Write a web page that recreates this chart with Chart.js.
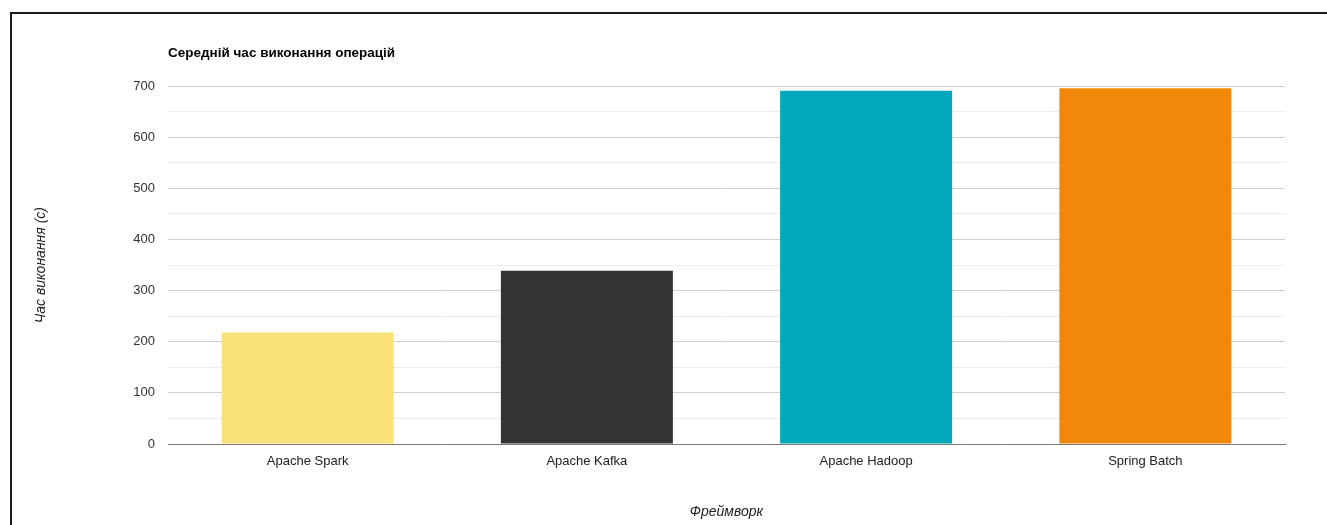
<!DOCTYPE html>
<html lang="uk">
<head>
    <meta charset="UTF-8">
    <title>Середній час виконання операцій</title>
    <script src="https://cdn.jsdelivr.net/npm/chart.js@4.4.1/dist/chart.umd.min.js"></script>
    <style>
        html, body { margin: 0; padding: 0; background: #fff; }
        .wrap { position: relative; width: 1327px; height: 525px; overflow: hidden; }
        .frame {
            position: absolute; left: 10px; top: 12px; right: -5px; bottom: -5px;
            border-left: 2px solid #1b1b1b; border-top: 2px solid #1b1b1b;
            pointer-events: none;
        }
        canvas { position: absolute; left: 0; top: 0; }
    </style>
</head>
<body>
<div class="wrap">
    <canvas id="chart" width="1327" height="525"></canvas>
    <div class="frame"></div>
</div>
<script>
    // data
    const frameworks = ['Apache Spark', 'Apache Kafka', 'Apache Hadoop', 'Spring Batch'];
    const avgTime = [218, 339, 691, 696];
    const barColors = ['#F9E177', '#333333', '#03A9BB', '#F2880A'];
    const yTicks = [0, 100, 200, 300, 400, 500, 600, 700];

    const font = "Arial, 'Liberation Sans', sans-serif";

    new Chart(document.getElementById('chart'), {
        type: 'bar',
        data: {
            labels: frameworks,
            datasets: [{
                label: 'Час виконання (с)',
                data: avgTime,
                backgroundColor: barColors,
                borderWidth: 0,
                barPercentage: 0.616,
                categoryPercentage: 1
            }]
        },
        options: {
            responsive: false,
            animation: false,
            layout: { padding: { left: 0, right: 42, top: 0, bottom: 0 } },
            plugins: {
                legend: { display: false },
                tooltip: { enabled: false },
                title: {
                    display: true,
                    text: 'Середній час виконання операцій',
                    align: 'start',
                    fullSize: false,
                    color: '#000',
                    font: { family: font, size: 13.5, weight: 'bold' },
                    padding: { top: 45, bottom: 25 }
                }
            },
            scales: {
                x: {
                    grid: { display: false, drawTicks: false },
                    border: { display: true, color: '#7a7a7a', width: 1 },
                    ticks: { color: '#222', font: { family: font, size: 13 }, padding: 10, maxRotation: 0 },
                    title: {
                        display: true,
                        text: 'Фреймворк',
                        color: '#222',
                        font: { family: font, size: 14, style: 'italic' },
                        padding: { top: 0, bottom: 4 }
                    },
                    afterFit: s => { s.height = 81; }
                },
                y: {
                    min: 0,
                    max: 700,
                    ticks: {
                        stepSize: 50,
                        color: '#333',
                        padding: 13,
                        font: { family: font, size: 13 },
                        callback: v => yTicks.includes(v) ? v : ''
                    },
                    grid: {
                        drawTicks: false,
                        color: ctx => (ctx.tick && ctx.tick.value % 100 === 0) ? '#d0d0d0' : '#ececec'
                    },
                    border: { display: false },
                    title: {
                        display: true,
                        text: 'Час виконання (с)',
                        color: '#222',
                        font: { family: font, size: 14, style: 'italic' },
                        padding: { top: 33, bottom: 0 }
                    },
                    afterFit: s => { s.width = 168; }
                }
            }
        }
    });
</script>
</body>
</html>
